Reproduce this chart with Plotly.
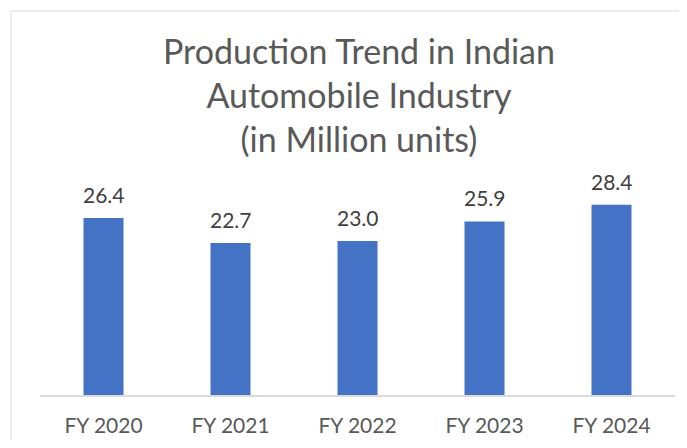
import plotly.graph_objects as go

categories = ["FY 2020", "FY 2021", "FY 2022", "FY 2023", "FY 2024"]
production = [26.4, 22.7, 23.0, 25.9, 28.4]
labels = ["26.4", "22.7", "23.0", "25.9", "28.4"]

# page has an 8px body margin; figure sized to fit inside the 687x448 window
W, H = 671, 432
L, R, T, B = 32, 4, 152, 45
plot_w = W - L - R
plot_h = H - T - B

fig = go.Figure(go.Bar(
    x=categories, y=production,
    cliponaxis=False,
    marker=dict(color="#4472C4", line=dict(width=0)),
))

for c, v, t in zip(categories, production, labels):
    fig.add_annotation(x=c, y=v, text=t, showarrow=False, yanchor="bottom",
                       yshift=9, font=dict(size=21, color="#404040", family="Lato"))

def px_x(p):
    return (p - L) / plot_w

def px_y(p):
    return (H - B - p) / plot_h

fig.add_shape(type="rect", xref="paper", yref="paper",
              x0=px_x(3), x1=px_x(720), y0=px_y(470), y1=px_y(3),
              line=dict(color="#d9d9d9", width=1), fillcolor="rgba(0,0,0,0)", layer="below")

fig.add_annotation(
    text="Production Trend in Indian<br>Automobile Industry<br>(in Million units)",
    xref="paper", yref="paper", x=px_x(351), y=px_y(20), xanchor="center", yanchor="top",
    showarrow=False, font=dict(size=34, color="#595959", family="Lato"),
)

fig.update_layout(
    width=W, height=H,
    margin=dict(l=L, r=R, t=T, b=B),
    paper_bgcolor="white", plot_bgcolor="white",
    bargap=0.685,
    showlegend=False,
    font=dict(family="Lato"),
)
fig.update_xaxes(showline=True, linecolor="#d9d9d9", linewidth=1.5,
                 ticks="outside", ticklen=11, tickcolor="rgba(0,0,0,0)",
                 tickfont=dict(size=21, color="#595959", family="Lato"), showgrid=False)
fig.update_yaxes(range=[0, plot_h / 6.7], visible=False, showgrid=False)

fig.write_html("out.html")
